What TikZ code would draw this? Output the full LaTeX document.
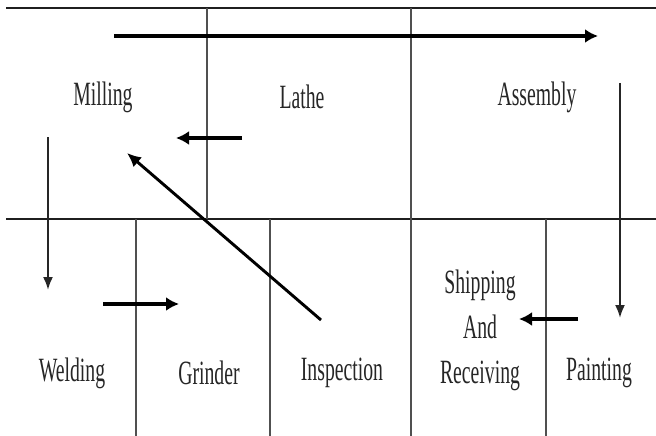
\documentclass[tikz,border=0pt]{standalone}
\usepackage{fontspec}
\setmainfont[FakeStretch=0.58]{Liberation Serif}
\usetikzlibrary{arrows.meta}
\definecolor{linegray}{HTML}{505050}
\definecolor{textgray}{HTML}{262626}
\tikzset{
  hline/.style={line width=2.6pt, draw=black!88},
  vline/.style={line width=1.9pt, draw=linegray},
  lbl/.style={font=\fontsize{34}{45}\selectfont, text=textgray, inner sep=0pt, align=center},
  thick arrow/.style={line width=3.4pt, -{Latex[length=13pt,width=14pt]}},
  thin arrow/.style={line width=2.1pt, draw=black!85, -{Latex[length=13pt,width=10pt]}},
  diag arrow/.style={line width=2.9pt, -{Latex[length=14pt,width=13pt]}}
}
\begin{document}
\begin{tikzpicture}[x=1pt,y=-1pt]
\useasboundingbox (0,0) rectangle (656,436);
% frame
\draw[hline] (6,8) -- (656,8);
\draw[hline] (6,219) -- (656,219);
\draw[vline] (207,8) -- (207,219);
\draw[vline] (411,8) -- (411,436);
\draw[vline] (136,219) -- (136,436);
\draw[vline] (270,219) -- (270,436);
\draw[vline] (546,219) -- (546,436);
% labels
\node[lbl] (milling) at (103,97) {Milling};
\node[lbl] (lathe) at (302,97) {Lathe};
\node[lbl] (assembly) at (537,97) {Assembly};
\node[lbl] (welding) at (72,373) {Welding};
\node[lbl] (grinder) at (209,373) {Grinder};
\node[lbl] (inspection) at (342,373) {Inspection};
\node[lbl, anchor=base] (receiving) at (480,383) {Receiving};
\node[lbl, anchor=base] (and) at (480,338) {And};
\node[lbl, anchor=base] (shipping) at (480,293) {Shipping};
\node[lbl] (painting) at (599,373) {Painting};
% arrow ends
\coordinate (a1s) at (114,36);  \coordinate (a1e) at (598,36);
\coordinate (a2s) at (242,138); \coordinate (a2e) at (176,138);
\coordinate (a3s) at (321,320); \coordinate (a3e) at (127,153);
\coordinate (a4s) at (48,137);  \coordinate (a4e) at (48,290);
\coordinate (a5s) at (103,304); \coordinate (a5e) at (179,304);
\coordinate (a6s) at (620,83);  \coordinate (a6e) at (620,318);
\coordinate (a7s) at (578,319); \coordinate (a7e) at (519,319);
\draw[thick arrow] (a1s) -- (a1e);
\draw[thick arrow] (a2s) -- (a2e);
\draw[diag arrow] (a3s) -- (a3e);
\draw[thin arrow] (a4s) -- (a4e);
\draw[thick arrow] (a5s) -- (a5e);
\draw[thin arrow] (a6s) -- (a6e);
\draw[thick arrow] (a7s) -- (a7e);
\end{tikzpicture}
\end{document}
